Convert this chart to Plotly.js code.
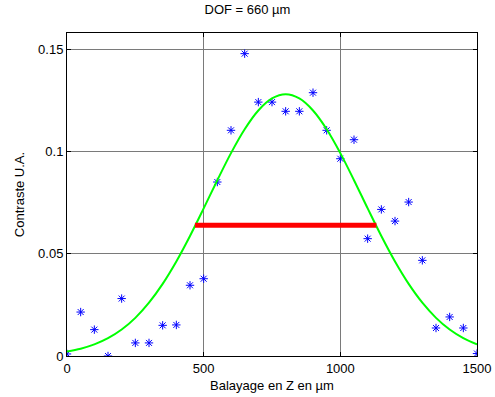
<!DOCTYPE html>
<html>
<head>
<meta charset="utf-8">
<script src="https://cdn.plot.ly/plotly-3.0.1.min.js"></script>
<style>html,body{margin:0;padding:0;background:#fff;}#chart{width:495px;height:397px;}</style>
</head>
<body>
<div id="chart"></div>
<script>
// Measured contrast points (blue asterisks)
const scanZ = [0,50,100,150,200,250,300,350,400,450,500,550,600,650,700,750,800,850,900,950,1000,1050,1100,1150,1200,1250,1300,1350,1400,1450,1500];
const contrast = [0.001,0.0215,0.0129,0.0000,0.0281,0.0064,0.0064,0.0150,0.0152,0.0346,0.0378,0.0851,0.1104,0.1479,0.1242,0.1242,0.1197,0.1197,0.1288,0.1104,0.0965,0.1058,0.0574,0.0717,0.0660,0.0753,0.0468,0.0137,0.0191,0.0137,0.0012];

// Fitted curve (green)
const fitZ = [0,50,100,150,200,250,300,350,400,450,500,550,600,650,700,750,800,850,900,950,1000,1050,1100,1150,1200,1250,1300,1350,1400,1450,1500];
const fitContrast = [0.00218,0.00357,0.00566,0.00870,0.01295,0.01866,0.02608,0.03528,0.04623,0.05870,0.07219,0.08600,0.09924,0.11093,0.12010,0.12598,0.12800,0.12598,0.12010,0.11093,0.09924,0.08600,0.07219,0.05870,0.04623,0.03528,0.02608,0.01866,0.01295,0.00870,0.00566];

// DOF bar (red), at half maximum
const dofZ = [468,1132];
const dofLevel = [0.064,0.064];

const xTicks = [0,500,1000,1500];
const yTicks = [0,0.05,0.1,0.15];
const yTickText = ['0','0.05','0.1','0.15'];

const font = {family:'Liberation Sans, Arial, sans-serif', size:13, color:'#000'};

const traces = [
  {x: scanZ, y: contrast, type:'scatter', mode:'markers',
   marker:{symbol:'asterisk-open', size:7, color:'#0000ff', line:{color:'#0000ff', width:1}}},
  {x: fitZ, y: fitContrast, type:'scatter', mode:'lines',
   line:{color:'#00ff00', width:2, shape:'spline'}},
  {x: dofZ, y: dofLevel, type:'scatter', mode:'lines',
   line:{color:'#ff0000', width:5}}
];

const layout = {
  width:495, height:397,
  margin:{l:67, r:18, t:33, b:41},
  paper_bgcolor:'#fff', plot_bgcolor:'#fff',
  showlegend:false,
  font: font,
  title:{text:'DOF = 660 µm', font:{family:font.family, size:13, color:'#000'}, x:0.5, xanchor:'center', y:0.975, yanchor:'middle'},
  xaxis:{range:[0,1500], tickvals:xTicks, ticktext:xTicks.map(String),
    showgrid:true, gridcolor:'#7a7a7a', gridwidth:1,
    showline:true, linecolor:'#000', linewidth:1, mirror:'ticks',
    ticks:'inside', ticklen:4, tickcolor:'#000', zeroline:false,
    tickfont:font,
    title:{text:'Balayage en Z en µm', font:font, standoff:6}},
  yaxis:{range:[0,0.158], tickvals:yTicks, ticktext:yTickText,
    showgrid:true, gridcolor:'#7a7a7a', gridwidth:1,
    showline:true, linecolor:'#000', linewidth:1, mirror:'ticks',
    ticks:'inside', ticklen:4, tickcolor:'#000', zeroline:false,
    tickfont:font,
    title:{text:'Contraste U.A.', font:font, standoff:10}}
};

Plotly.newPlot('chart', traces, layout, {displayModeBar:false, staticPlot:true});
</script>
</body>
</html>
